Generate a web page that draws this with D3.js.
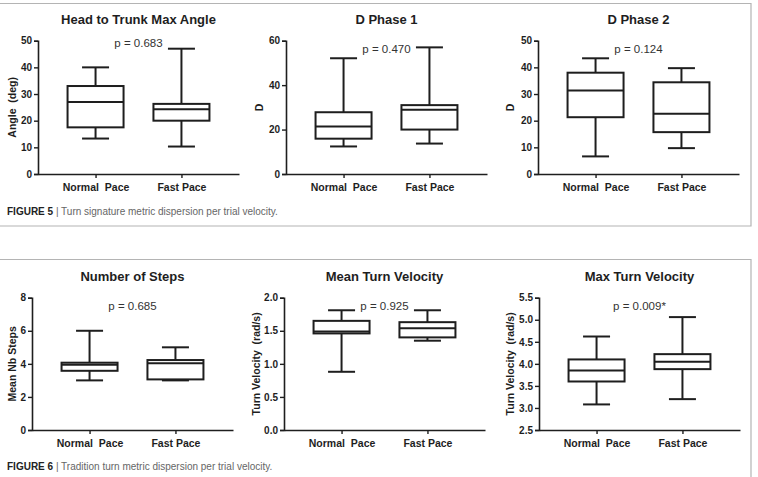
<!DOCTYPE html>
<html lang="en">
    <head>
        <meta charset="utf-8">
        <title>Turn metric box plots</title>
        <script type="text/javascript" src="https://cdn.jsdelivr.net/npm/d3@7"></script>
        <style type="text/css">
            body { margin: 0; background: #fff; }
            svg { font-family: "Liberation Sans", Arial, sans-serif; }
        </style>
    </head>
    <body>
        <script type="text/javascript">
            //Chart data
            var categories = ["Normal  Pace", "Fast Pace"];
            var titles = ["Head to Trunk Max Angle", "D Phase 1", "D Phase 2",
                          "Number of Steps", "Mean Turn Velocity", "Max Turn Velocity"];
            var yLabels = ["Angle  (deg)", "D", "D",
                           "Mean Nb Steps", "Turn Velocity  (rad/s)", "Turn Velocity  (rad/s)"];
            var pTexts = ["p = 0.683", "p = 0.470", "p = 0.124",
                          "p = 0.685", "p = 0.925", "p = 0.009*"];
            var yDomains = [[0, 50], [0, 60], [0, 50], [0, 8], [0, 2], [2.5, 5.5]];
            var yTicks = [
                [0, 10, 20, 30, 40, 50],
                [0, 20, 40, 60],
                [0, 10, 20, 30, 40, 50],
                [0, 2, 4, 6, 8],
                [0, 0.5, 1.0, 1.5, 2.0],
                [2.5, 3.0, 3.5, 4.0, 4.5, 5.0, 5.5]
            ];
            //[min, q1, median, q3, max] for normal pace
            var normalStats = [
                [13.3, 17.5, 27.0, 33.0, 40.0],
                [12.4, 15.9, 21.4, 27.8, 52.1],
                [6.6, 21.3, 31.3, 38.0, 43.4],
                [3.0, 3.58, 3.95, 4.07, 6.0],
                [0.88, 1.46, 1.49, 1.65, 1.81],
                [3.08, 3.60, 3.85, 4.10, 4.62]
            ];
            //[min, q1, median, q3, max] for fast pace
            var fastStats = [
                [10.3, 20.0, 24.3, 26.3, 47.0],
                [13.7, 20.0, 28.9, 31.0, 57.0],
                [9.7, 15.7, 22.6, 34.4, 39.7],
                [3.0, 3.06, 4.03, 4.23, 5.0],
                [1.35, 1.40, 1.54, 1.63, 1.81],
                [3.20, 3.88, 4.05, 4.22, 5.06]
            ];
            var captions = [
                ["FIGURE 5", " | Turn signature metric dispersion per trial velocity."],
                ["FIGURE 6", " | Tradition turn metric dispersion per trial velocity."]
            ];

            //Layout
            var w = 758;
            var h = 477;
            var ink = "#1e1e1e";
            var panelX = [38, 286, 538, 32, 284, 539];
            var panelW = 201;
            var rowTop = [40.7, 297.7];
            var rowBottom = [174, 430];
            var titleY = [24, 281];
            var pY = [47, 53, 53, 310, 310, 310];
            var yLabelOffset = [22, 23, 24, 16, 24, 25];
            var boxW = 56;
            var capW = 27;

            var svg = d3.select("body")
                        .append("svg")
                        .attr("width", w)
                        .attr("height", h);

            //Figure frames
            var frame = svg.append("g")
                        .attr("stroke", "#b4b4b4")
                        .attr("fill", "none")
                        .attr("stroke-width", 1.2);
            frame.append("path").attr("d", "M0,3.5H751V226H0");
            frame.append("path").attr("d", "M0,259.5H751V" + h);

            titles.forEach(function(title, i) {
                var row = i < 3 ? 0 : 1;
                var x0 = panelX[i];

                var yScale = d3.scaleLinear()
                                .domain(yDomains[i])
                                .range([rowBottom[row], rowTop[row]]);

                var xScale = d3.scalePoint()
                                .domain(categories)
                                .range([x0, x0 + panelW])
                                .padding(0.67);

                var g = svg.append("g");

                //Title
                g.append("text")
                    .attr("x", x0 + panelW / 2)
                    .attr("y", titleY[row])
                    .attr("text-anchor", "middle")
                    .attr("font-weight", "bold")
                    .attr("font-size", "13px")
                    .attr("fill", ink)
                    .text(title);

                //Y axis
                var yAxis = d3.axisLeft(yScale)
                                .tickValues(yTicks[i])
                                .tickSize(4)
                                .tickPadding(2)
                                .tickFormat(i >= 4 ? d3.format(".1f") : d3.format("d"));
                var ya = g.append("g")
                    .attr("transform", "translate(" + x0 + ",0)")
                    .call(yAxis);
                ya.select(".domain").attr("stroke", ink).attr("stroke-width", 1.6);
                ya.selectAll(".tick line").attr("stroke", ink).attr("stroke-width", 1.4);
                ya.selectAll(".tick text")
                    .attr("font-size", "10px")
                    .attr("font-weight", "bold")
                    .attr("fill", ink);

                //X axis
                var xAxis = d3.axisBottom(xScale)
                                .tickSize(4)
                                .tickSizeOuter(0)
                                .tickPadding(4);
                var xa = g.append("g")
                    .attr("transform", "translate(0," + rowBottom[row] + ")")
                    .call(xAxis);
                xa.select(".domain").attr("stroke", ink).attr("stroke-width", 1.6);
                xa.selectAll(".tick line").attr("stroke", ink).attr("stroke-width", 1.4);
                xa.selectAll(".tick text")
                    .attr("font-size", "10.5px")
                    .attr("font-weight", "bold")
                    .attr("fill", ink)
                    .attr("dy", "0.85em")
                    .style("white-space", "pre");

                //Y label
                g.append("text")
                    .attr("transform", "translate(" + (x0 - yLabelOffset[i]) + "," +
                          ((rowTop[row] + rowBottom[row]) / 2) + ") rotate(-90)")
                    .attr("text-anchor", "middle")
                    .attr("font-weight", "bold")
                    .attr("font-size", "10.5px")
                    .attr("fill", ink)
                    .style("white-space", "pre")
                    .text(yLabels[i]);

                //Boxes
                var stats = [normalStats[i], fastStats[i]];
                var boxes = g.selectAll("g.box")
                    .data(stats)
                    .enter()
                    .append("g")
                    .attr("class", "box")
                    .attr("stroke", ink)
                    .attr("stroke-width", 2)
                    .attr("fill", "none");

                //Whisker stems
                boxes.append("line")
                    .attr("x1", function(d, j) { return xScale(categories[j]); })
                    .attr("x2", function(d, j) { return xScale(categories[j]); })
                    .attr("y1", function(d) { return yScale(d[0]); })
                    .attr("y2", function(d) { return yScale(d[4]); });

                //Caps
                [0, 4].forEach(function(k) {
                    boxes.append("line")
                        .attr("x1", function(d, j) { return xScale(categories[j]) - capW / 2; })
                        .attr("x2", function(d, j) { return xScale(categories[j]) + capW / 2; })
                        .attr("y1", function(d) { return yScale(d[k]); })
                        .attr("y2", function(d) { return yScale(d[k]); });
                });

                //Box
                boxes.append("rect")
                    .attr("x", function(d, j) { return xScale(categories[j]) - boxW / 2; })
                    .attr("width", boxW)
                    .attr("y", function(d) { return yScale(d[3]); })
                    .attr("height", function(d) { return yScale(d[1]) - yScale(d[3]); })
                    .attr("fill", "#fff");

                //Median
                boxes.append("line")
                    .attr("x1", function(d, j) { return xScale(categories[j]) - boxW / 2; })
                    .attr("x2", function(d, j) { return xScale(categories[j]) + boxW / 2; })
                    .attr("y1", function(d) { return yScale(d[2]); })
                    .attr("y2", function(d) { return yScale(d[2]); });

                //p value
                g.append("text")
                    .attr("x", x0 + panelW / 2)
                    .attr("y", pY[i])
                    .attr("text-anchor", "middle")
                    .attr("font-size", "11.5px")
                    .attr("fill", "#333")
                    .text(pTexts[i]);
            });

            //Captions
            var capY = [215, 470];
            captions.forEach(function(c, i) {
                var t = svg.append("text")
                    .attr("x", 7)
                    .attr("y", capY[i])
                    .attr("font-size", "10px");
                t.append("tspan").attr("font-weight", "bold").attr("fill", "#222").text(c[0]);
                t.append("tspan").attr("fill", "#666").text(c[1]);
            });
        </script>
    </body>
</html>
